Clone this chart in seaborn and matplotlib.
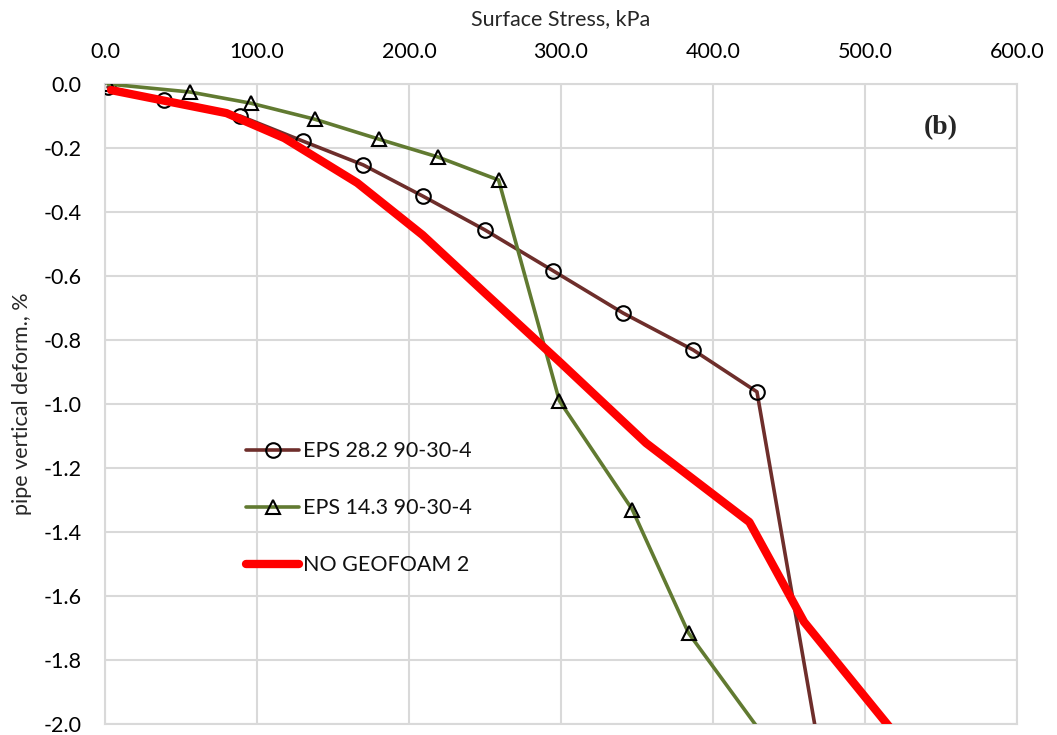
import numpy as np
import pandas as pd
import matplotlib
matplotlib.use("Agg")
import matplotlib.pyplot as plt
import seaborn as sns

# values (points beyond -2.0 are clipped by the axes)
eps282_x = [2, 39, 89, 130, 170, 209, 250, 295, 341, 387, 429, 475]
eps282_y = [-0.01, -0.05, -0.10, -0.178, -0.253, -0.35, -0.456, -0.584, -0.716, -0.831, -0.962, -2.22]

eps143_x = [2, 56, 96, 138, 180, 219, 259, 299, 347, 384, 440]
eps143_y = [0.0, -0.025, -0.06, -0.11, -0.172, -0.228, -0.30, -0.99, -1.33, -1.716, -2.08]

nogeo_x = [4, 80, 118, 166, 209, 250, 300, 356, 424, 460, 530]
nogeo_y = [-0.019, -0.091, -0.169, -0.309, -0.472, -0.653, -0.872, -1.122, -1.369, -1.681, -2.09]

labels = ["EPS 28.2 90-30-4", "EPS 14.3 90-30-4", "NO GEOFOAM 2"]
x_ticks = [0, 100, 200, 300, 400, 500, 600]
y_ticks = [0.0, -0.2, -0.4, -0.6, -0.8, -1.0, -1.2, -1.4, -1.6, -1.8, -2.0]

sns.set_style("white")
plt.rcParams['font.family'] = ['Lato', 'DejaVu Sans']
fs = 15.5

fig = plt.figure(figsize=(10.57, 7.35), dpi=100)
ax = fig.add_axes([0.0993, 0.015, 0.8627, 0.8707])

grid_c = "#d9d9d9"

df1 = pd.DataFrame({"x": eps282_x, "y": eps282_y})
df2 = pd.DataFrame({"x": eps143_x, "y": eps143_y})
df3 = pd.DataFrame({"x": nogeo_x, "y": nogeo_y})

sns.lineplot(data=df1, x="x", y="y", sort=False, ax=ax, color="#6e2e2b", lw=2.6,
             marker="o", markersize=10.5, markerfacecolor="none", markeredgecolor="black",
             markeredgewidth=1.5, label=labels[0], zorder=3)
sns.lineplot(data=df2, x="x", y="y", sort=False, ax=ax, color="#617a31", lw=2.6,
             marker="^", markersize=10.5, markerfacecolor="none", markeredgecolor="black",
             markeredgewidth=1.5, label=labels[1], zorder=3)
sns.lineplot(data=df3, x="x", y="y", sort=False, ax=ax, color="#ff0000", lw=6,
             label=labels[2], zorder=4)

ax.set_xlim(0, 600)
ax.set_ylim(-2.0, 0.0)
ax.xaxis.tick_top()
ax.xaxis.set_label_position("top")
ax.set_xticks(x_ticks)
ax.set_xticklabels([f"{v:.1f}" for v in x_ticks])
ax.set_yticks(y_ticks)
ax.set_yticklabels([f"{v:.1f}" for v in y_ticks])
ax.tick_params(axis="x", length=0, labelsize=fs, pad=16, colors="black")
ax.tick_params(axis="y", length=0, labelsize=fs, pad=17, colors="black")
ax.grid(True, color=grid_c, lw=1.5)
ax.set_axisbelow(True)
for s in ax.spines.values():
    s.set_color(grid_c)
    s.set_linewidth(1.5)

ax.set_xlabel("Surface Stress, kPa", fontsize=fs, labelpad=12)
ax.set_ylabel("pipe vertical deform., %", fontsize=fs, labelpad=8)

ax.text(0.917, 0.932, "(b)", transform=ax.transAxes, fontsize=20, fontweight="bold",
        family="Liberation Serif", ha="center", va="center")

leg = ax.legend(loc="upper left", bbox_to_anchor=(0.133, 0.472), frameon=False,
                fontsize=fs, handlelength=2.5, handletextpad=0.15, labelspacing=1.72)
for t in leg.get_texts():
    t.set_color("#111111")

fig.savefig("out.png", dpi=100)
